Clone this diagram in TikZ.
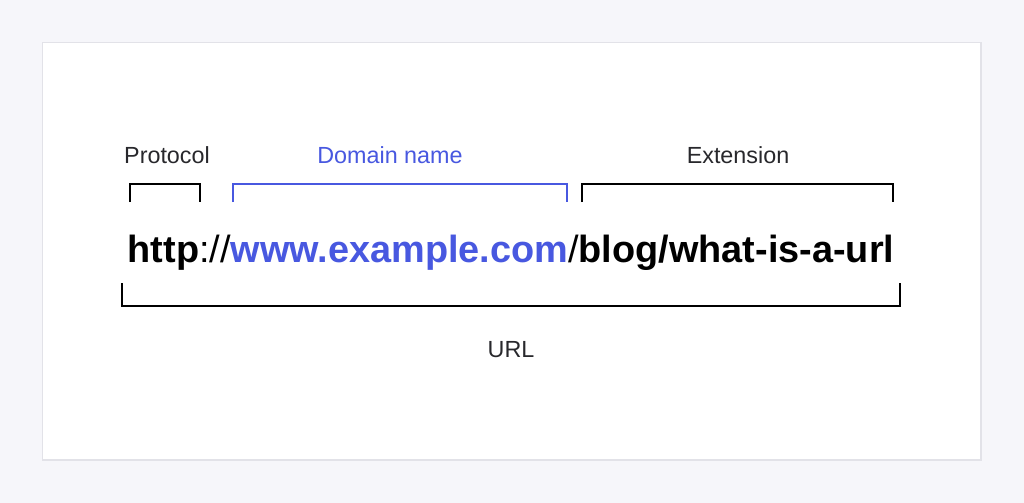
\documentclass[tikz,border=0pt]{standalone}
\usepackage{fontspec}
\setmainfont{Liberation Sans}
\usepackage{xcolor}
\usetikzlibrary{positioning}
\definecolor{pageGray}{RGB}{246, 246, 250}
\definecolor{cardLine}{RGB}{226, 226, 232}
\definecolor{domainBlue}{RGB}{72, 88, 224}
\definecolor{labelGray}{RGB}{40, 40, 44}

\begin{document}
\begin{tikzpicture}[x=0.75pt, y=-0.75pt,
    bracket/.style={line width=2pt, line cap=butt, line join=miter},
    partlabel/.style={font=\fontsize{17.5}{20}\selectfont, text=labelGray, inner sep=0pt},
    urltext/.style={font=\fontsize{28.4}{31}\selectfont\bfseries, inner sep=0pt}]
    \fill[pageGray] (0,0) rectangle (1024,503);
    \useasboundingbox (0,0) rectangle (1024,503);
    \draw[cardLine, fill=white, line width=1pt] (42.5,42.5) rectangle (981,460);

    % labels above and below
    \node[partlabel] (protocol) at (167,155) {Protocol};
    \node[partlabel, text=domainBlue] (domain) at (390,155) {Domain name};
    \node[partlabel] (extension) at (738,155) {Extension};
    \node[partlabel] (url) at (511,350) {URL};

    % the address itself
    \node[urltext, anchor=base] (address) at (511,262)
        {http{\mdseries://}\textcolor{domainBlue}{www.example.com}{\mdseries/}blog/what-is-a-url};

    % brackets
    \draw[bracket] (130,202) |- (200,184) -- (200,202);
    \draw[bracket, domainBlue] (233,202) |- (567,184) -- (567,202);
    \draw[bracket] (582,202) |- (893,184) -- (893,202);
    \draw[bracket] (122,283) |- (900,306) -- (900,283);
\end{tikzpicture}
\end{document}
